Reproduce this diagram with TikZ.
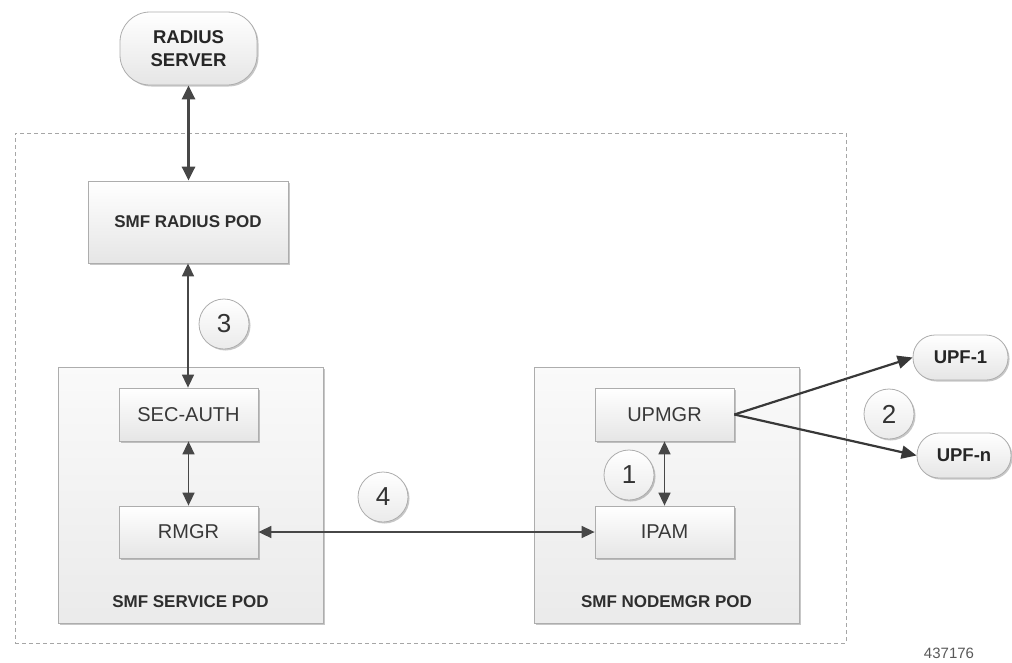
\documentclass[tikz,border=0pt]{standalone}
\usepackage{fontspec}
\setmainfont{Liberation Sans}
\usetikzlibrary{arrows.meta,shadows}
\begin{document}
\begin{tikzpicture}[x=1pt,y=-1pt,
  shd/.style={drop shadow={shadow xshift=1.5pt,shadow yshift=-1.5pt,opacity=0.22,fill=black}},
  box/.style={draw=black!32, line width=0.8pt, top color=white, bottom color=black!10, shd, inner sep=0pt,
              font=\fontsize{20}{22}\selectfont, text=black!78},
  pod/.style={draw=black!32, line width=0.8pt, top color=black!2, bottom color=black!8, shd, inner sep=0pt},
  pill/.style={box, rounded corners=22pt, font=\bfseries\fontsize{18.5}{23}\selectfont, text=black!85, align=center},
  lbl/.style={font=\bfseries\fontsize{17}{20}\selectfont, text=black!82},
  num/.style={circle, draw=black!32, line width=0.8pt, top color=white, bottom color=black!8, shd,
              minimum size=50pt, inner sep=0pt, font=\fontsize{26}{26}\selectfont, text=black!80},
  tip/.tip={Triangle[length=13pt,width=12pt]},
  arr/.style={tip-tip, line width=1.6pt, draw=black!72, fill=black!72},
  arrbig/.style={{Triangle[length=14pt,width=13pt]}-{Triangle[length=14pt,width=13pt]}, line width=3pt, draw=black!72, fill=black!72},
  arrone/.style={-{Triangle[length=15pt,width=13pt]}, line width=2.2pt, draw=black!78, fill=black!78},
  outer/.style={draw=black!35, line width=0.9pt, dash pattern=on 4pt off 3pt}
]
\useasboundingbox (0,0) rectangle (1012,662);

% outer dashed boundary
\node[outer, minimum width=831pt, minimum height=510pt, inner sep=0pt] (boundary) at (430.5,388) {};

% pods
\node[pod, minimum width=265pt, minimum height=256pt] (svcpod) at (190.5,495) {};
\node[pod, minimum width=265pt, minimum height=256pt] (nodepod) at (666.5,495) {};
\node[lbl] (svclbl) at (190.5,602) {SMF SERVICE POD};
\node[lbl] (nodelbl) at (666.5,602) {SMF NODEMGR POD};

% boxes
\node[pill, minimum width=137pt, minimum height=73pt, rounded corners=30pt] (radius) at (188.5,48.5) {RADIUS\\SERVER};
\node[box, minimum width=200pt, minimum height=82pt, font=\bfseries\fontsize{17}{20}\selectfont, text=black!82] (rpod) at (188,222) {SMF RADIUS POD};
\node[box, minimum width=139pt, minimum height=53pt] (secauth) at (188.5,414.5) {SEC-AUTH};
\node[box, minimum width=139pt, minimum height=52pt] (rmgr) at (188.5,532) {RMGR};
\node[box, minimum width=139pt, minimum height=53pt] (upmgr) at (664.5,414.5) {UPMGR};
\node[box, minimum width=139pt, minimum height=52pt] (ipam) at (664.5,532) {IPAM};
\node[pill, minimum width=95pt, minimum height=45pt] (upf1) at (960.5,357.5) {UPF-1};
\node[pill, minimum width=94pt, minimum height=45pt] (upfn) at (964,455.5) {UPF-n};

% numbers
\node[num] (n3) at (224,324) {3};
\node[num] (n4) at (383,497) {4};
\node[num] (n1) at (629,475) {1};
\node[num] (n2) at (889,414) {2};

% connectors
\draw[arrbig] (radius.south) -- (radius.south |- rpod.north);
\draw[arr] (rpod.south) -- (rpod.south |- secauth.north);
\draw[arr] (secauth) -- (rmgr);
\draw[arr] (rmgr.east) -- (ipam.west);
\draw[arr] (upmgr) -- (ipam);
\draw[arrone] (upmgr.east) -- (upf1.west);
\draw[arrone] (upmgr.east) -- (upfn.west);

% figure id
\node[font=\fontsize{15}{15}\selectfont, text=black!65, inner sep=0pt] (figid) at (949,653) {437176};
\end{tikzpicture}
\end{document}
